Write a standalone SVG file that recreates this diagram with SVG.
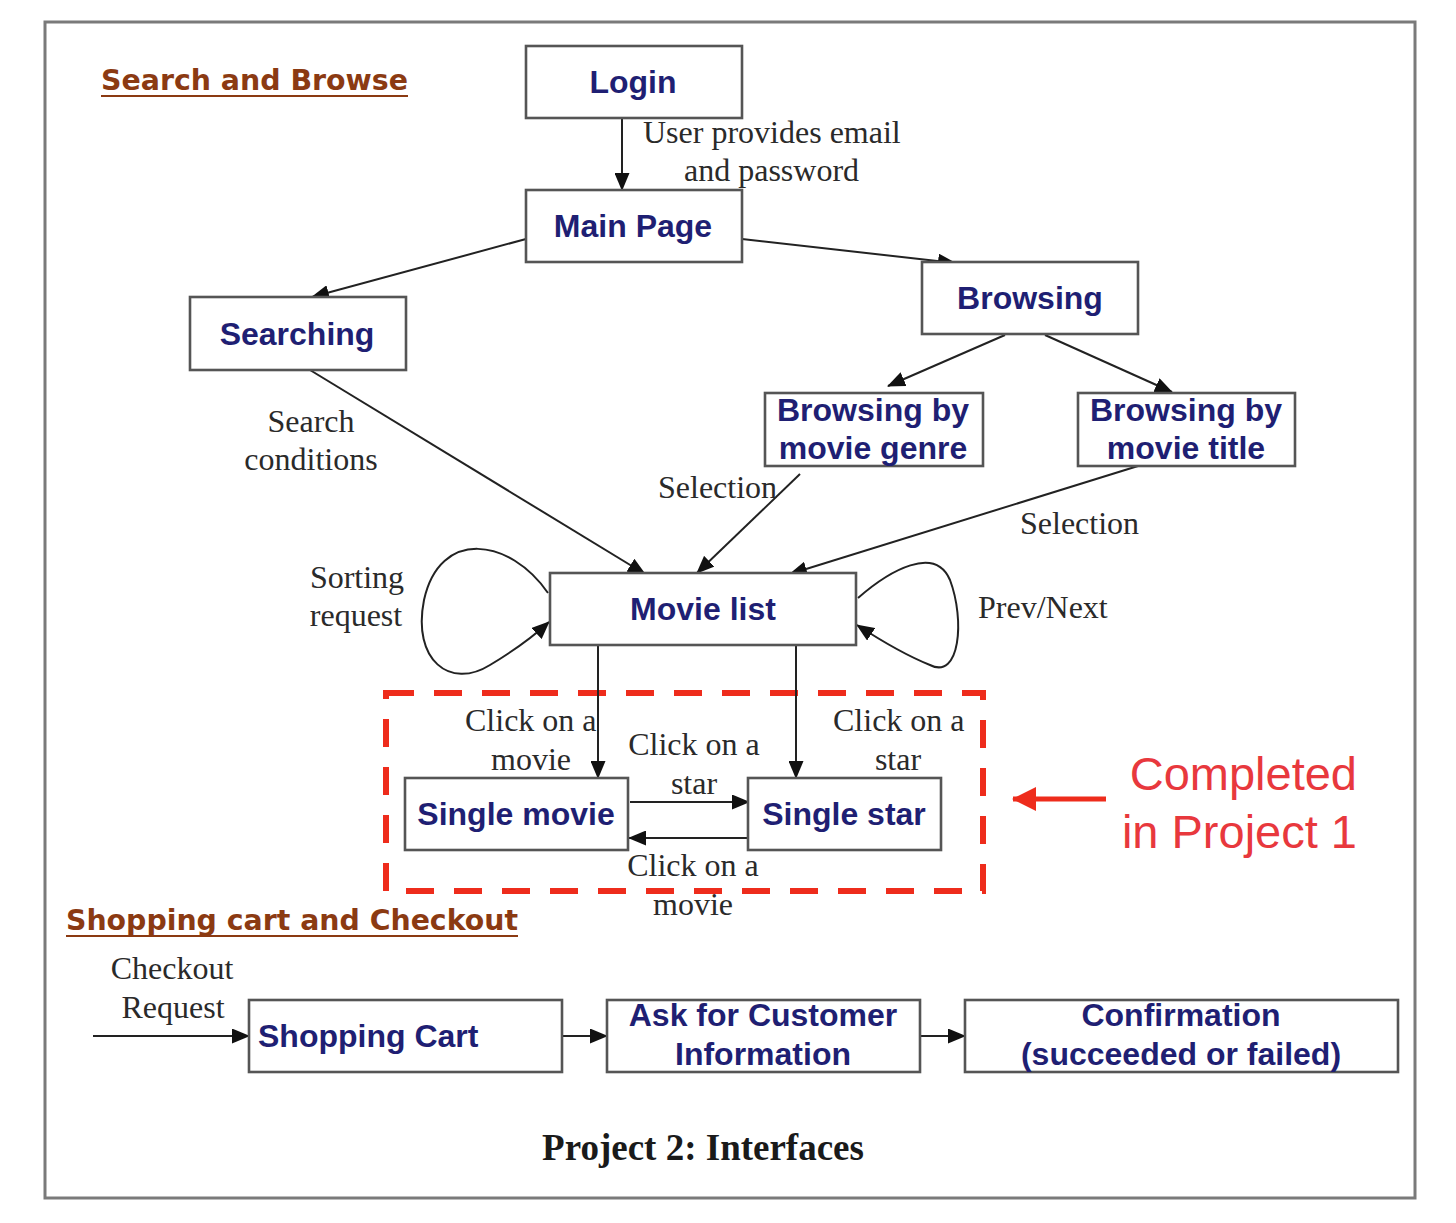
<svg xmlns="http://www.w3.org/2000/svg" width="1456" height="1223" viewBox="0 0 1456 1223">
  <style>
    .box { fill: #ffffff; stroke: #555555; stroke-width: 2.6; }
    .lbl { font-family: "Liberation Sans", Arial, sans-serif; font-weight: bold; font-size: 32px; fill: #1f1f73; text-anchor: middle; }
    .edge { fill: none; stroke: #222222; stroke-width: 2; }
    .note { font-family: "Liberation Serif", "Times New Roman", serif; font-size: 32px; fill: #2a2a2a; }
    .mid { text-anchor: middle; }
    .head { font-family: "DejaVu Sans", Verdana, sans-serif; font-weight: bold; font-size: 28px; fill: #8b3a12; }
    .uline { stroke: #8b3a12; stroke-width: 2.2; }
  </style>
  <defs>
    <marker id="arr" markerUnits="userSpaceOnUse" markerWidth="18" markerHeight="15" viewBox="0 0 18 15" refX="17" refY="7.5" orient="auto">
      <path d="M0,0 L18,7.5 L0,15 Z" fill="#111111"/>
    </marker>
    <marker id="arrRed" markerUnits="userSpaceOnUse" markerWidth="24" markerHeight="24" viewBox="0 0 24 24" refX="23" refY="12" orient="auto">
      <path d="M0,0 L24,12 L0,24 Z" fill="#ee2c1c"/>
    </marker>
  </defs>

  <!-- page frame -->
  <rect x="45" y="22" width="1370" height="1176" fill="#ffffff" stroke="#7a7a7a" stroke-width="3"/>

  <!-- section headings -->
  <text class="head" x="101" y="90" textLength="307" lengthAdjust="spacingAndGlyphs">Search and Browse</text>
  <line class="uline" x1="101" y1="96" x2="408" y2="96"/>
  <text class="head" x="66" y="930" textLength="452" lengthAdjust="spacingAndGlyphs">Shopping cart and Checkout</text>
  <line class="uline" x1="66" y1="936" x2="518" y2="936"/>

  <!-- region already finished -->
  <g id="project1-region">
    <rect x="386" y="693" width="597" height="198" fill="none" stroke="#ee2c1c" stroke-width="6" stroke-dasharray="28 20"/>
    <line x1="1106" y1="799" x2="1013" y2="799" stroke="#ee2c1c" stroke-width="5" marker-end="url(#arrRed)"/>
    <text x="1357" y="790" font-family="'Liberation Sans', Arial, sans-serif" font-size="47" fill="#e8383d" text-anchor="end">Completed</text>
    <text x="1357" y="848" font-family="'Liberation Sans', Arial, sans-serif" font-size="47" fill="#e8383d" text-anchor="end">in Project 1</text>
  </g>

  <!-- connectors -->
  <g id="connectors">
    <line class="edge" x1="622" y1="118" x2="622" y2="190" marker-end="url(#arr)"/>
    <line class="edge" x1="526" y1="239" x2="312" y2="297" marker-end="url(#arr)"/>
    <line class="edge" x1="742" y1="239" x2="955" y2="263" marker-end="url(#arr)"/>
    <line class="edge" x1="1005" y1="335" x2="888" y2="386" marker-end="url(#arr)"/>
    <line class="edge" x1="1045" y1="335" x2="1172" y2="392" marker-end="url(#arr)"/>
    <line class="edge" x1="310" y1="370" x2="645" y2="574" marker-end="url(#arr)"/>
    <line class="edge" x1="800" y1="474" x2="697" y2="573" marker-end="url(#arr)"/>
    <line class="edge" x1="1138" y1="466" x2="790" y2="574" marker-end="url(#arr)"/>
    <path class="edge" d="M548,593 C510,538 440,528 424,600 C412,660 450,690 490,665 C515,650 535,635 549,622" marker-end="url(#arr)"/>
    <path class="edge" d="M858,598 C890,570 935,545 950,580 C965,620 960,680 930,665 C905,655 880,640 857,625" marker-end="url(#arr)"/>
    <line class="edge" x1="598" y1="645" x2="598" y2="778" marker-end="url(#arr)"/>
    <line class="edge" x1="796" y1="645" x2="796" y2="778" marker-end="url(#arr)"/>
    <line class="edge" x1="630" y1="802" x2="749" y2="802" marker-end="url(#arr)"/>
    <line class="edge" x1="748" y1="838" x2="629" y2="838" marker-end="url(#arr)"/>
    <line class="edge" x1="93" y1="1036" x2="249" y2="1036" marker-end="url(#arr)"/>
    <line class="edge" x1="562" y1="1036" x2="607" y2="1036" marker-end="url(#arr)"/>
    <line class="edge" x1="920" y1="1036" x2="965" y2="1036" marker-end="url(#arr)"/>

    <!-- connector labels -->
    <text class="note" x="643" y="143">User provides email</text>
    <text class="note" x="684" y="181">and password</text>
    <text class="note mid" x="311" y="432">Search</text>
    <text class="note mid" x="311" y="470">conditions</text>
    <text class="note" x="658" y="498">Selection</text>
    <text class="note" x="1020" y="534">Selection</text>
    <text class="note mid" x="357" y="588">Sorting</text>
    <text class="note mid" x="356" y="626">request</text>
    <text class="note" x="978" y="618">Prev/Next</text>
    <text class="note" x="465" y="731">Click on a</text>
    <text class="note mid" x="531" y="770">movie</text>
    <text class="note" x="833" y="731">Click on a</text>
    <text class="note mid" x="898" y="770">star</text>
    <text class="note mid" x="694" y="755">Click on a</text>
    <text class="note mid" x="694" y="794">star</text>
    <text class="note mid" x="693" y="876">Click on a</text>
    <text class="note mid" x="693" y="915">movie</text>
    <text class="note mid" x="172" y="979">Checkout</text>
    <text class="note mid" x="173" y="1018">Request</text>
  </g>

  <!-- nodes -->
  <g id="login">
    <rect class="box" x="526" y="46" width="216" height="72"/>
    <text class="lbl" x="633" y="93">Login</text>
  </g>
  <g id="main-page">
    <rect class="box" x="526" y="190" width="216" height="72"/>
    <text class="lbl" x="633" y="237">Main Page</text>
  </g>
  <g id="searching">
    <rect class="box" x="190" y="297" width="216" height="73"/>
    <text class="lbl" x="297" y="345">Searching</text>
  </g>
  <g id="browsing">
    <rect class="box" x="922" y="262" width="216" height="72"/>
    <text class="lbl" x="1030" y="309">Browsing</text>
  </g>
  <g id="browse-genre">
    <rect class="box" x="765" y="393" width="218" height="73"/>
    <text class="lbl" x="873" y="421">Browsing by</text>
    <text class="lbl" x="873" y="459">movie genre</text>
  </g>
  <g id="browse-title">
    <rect class="box" x="1078" y="393" width="217" height="73"/>
    <text class="lbl" x="1186" y="421">Browsing by</text>
    <text class="lbl" x="1186" y="459">movie title</text>
  </g>
  <g id="movie-list">
    <rect class="box" x="550" y="573" width="306" height="72"/>
    <text class="lbl" x="703" y="620">Movie list</text>
  </g>
  <g id="single-movie">
    <rect class="box" x="405" y="778" width="223" height="72"/>
    <text class="lbl" x="516" y="825">Single movie</text>
  </g>
  <g id="single-star">
    <rect class="box" x="748" y="778" width="193" height="72"/>
    <text class="lbl" x="844" y="825">Single star</text>
  </g>
  <g id="shopping-cart">
    <rect class="box" x="249" y="1000" width="313" height="72"/>
    <text class="lbl" x="258" y="1047" style="text-anchor:start">Shopping Cart</text>
  </g>
  <g id="customer-info">
    <rect class="box" x="607" y="1000" width="313" height="72"/>
    <text class="lbl" x="763" y="1026">Ask for Customer</text>
    <text class="lbl" x="763" y="1065">Information</text>
  </g>
  <g id="confirmation">
    <rect class="box" x="965" y="1000" width="433" height="72"/>
    <text class="lbl" x="1181" y="1026">Confirmation</text>
    <text class="lbl" x="1181" y="1065">(succeeded or failed)</text>
  </g>

  <!-- caption -->
  <text x="703" y="1160" font-family="'Liberation Serif', 'Times New Roman', serif" font-weight="bold" font-size="37" fill="#1a1a1a" text-anchor="middle">Project 2: Interfaces</text>
</svg>
